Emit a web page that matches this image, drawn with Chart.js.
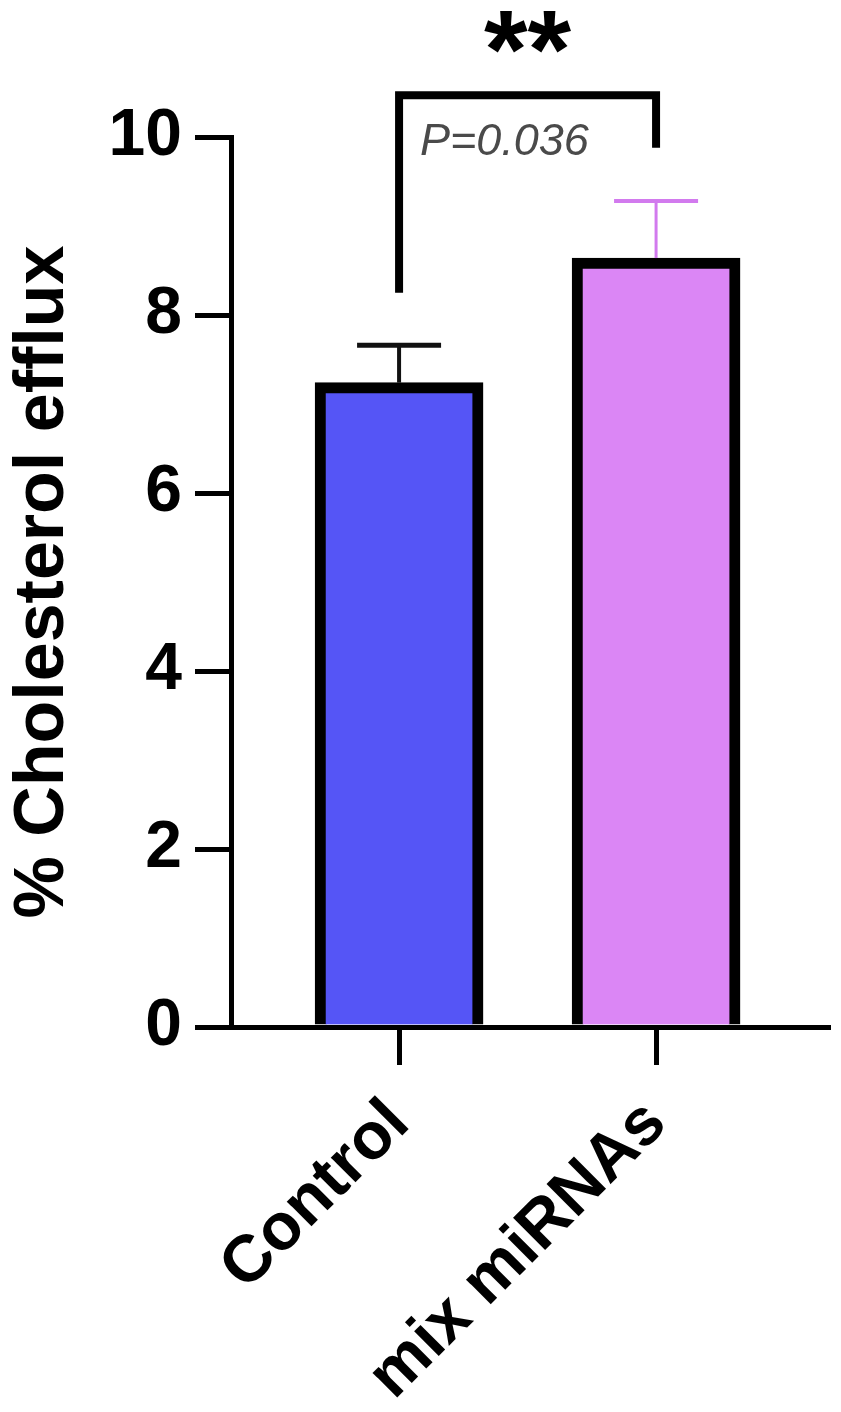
<!DOCTYPE html>
<html>
<head>
<meta charset="utf-8">
<script src="https://cdn.jsdelivr.net/npm/chart.js@4.4.1/dist/chart.umd.min.js"></script>
<style>
  html, body { margin: 0; padding: 0; background: #fff; }
  #wrap { width: 841px; height: 1412px; }
</style>
</head>
<body>
<div id="wrap"><canvas id="chart" width="841" height="1412"></canvas></div>
<script>
// values
const categories = ['Control', 'mix miRNAs'];
const means = [7.24, 8.64];
const upperErrors = [0.42, 0.64];
const yTicks = [0, 2, 4, 6, 8, 10];
const yTitle = '% Cholesterol efflux';

// significance bracket: left leg end, bar height, right leg end (y units)
const bracketLevels = [8.25, 10.47, 9.88];
const pValueText = 'P=0.036';
const starsText = '**';

const FONT = '"Liberation Sans", Arial, Helvetica, sans-serif';
const fillColors = ['#5555F6', '#DB86F5'];
const errorColors = ['#111111', '#D27AEE'];

// error bars, bracket and annotations
const annotate = {
  id: 'annotate',
  afterDatasetsDraw(chart) {
    const ctx = chart.ctx;
    const x = chart.scales.x;
    const y = chart.scales.y;
    ctx.save();
    ctx.lineCap = 'butt';

    // upper error bars
    means.forEach((m, i) => {
      const cx = x.getPixelForValue(i);
      const top = y.getPixelForValue(m + upperErrors[i]);
      const base = y.getPixelForValue(m);
      ctx.strokeStyle = errorColors[i];
      ctx.lineWidth = i === 0 ? 4 : 3;
      ctx.beginPath();
      ctx.moveTo(cx, base);
      ctx.lineTo(cx, top);
      ctx.stroke();
      ctx.lineWidth = i === 0 ? 5 : 4;
      ctx.beginPath();
      ctx.moveTo(cx - 42, top);
      ctx.lineTo(cx + 42, top);
      ctx.stroke();
    });

    // bracket
    const x0 = x.getPixelForValue(0);
    const x1 = x.getPixelForValue(1);
    ctx.strokeStyle = '#000';
    ctx.lineWidth = 8;
    ctx.lineJoin = 'miter';
    ctx.beginPath();
    ctx.moveTo(x0, y.getPixelForValue(bracketLevels[0]));
    ctx.lineTo(x0, y.getPixelForValue(bracketLevels[1]));
    ctx.lineTo(x1, y.getPixelForValue(bracketLevels[1]));
    ctx.lineTo(x1, y.getPixelForValue(bracketLevels[2]));
    ctx.stroke();

    // p value
    ctx.fillStyle = '#4a4a4a';
    ctx.font = 'italic 45px ' + FONT;
    ctx.textAlign = 'center';
    ctx.textBaseline = 'middle';
    ctx.fillText(pValueText, x.getPixelForValue(0.41), y.getPixelForValue(9.94));

    // stars
    ctx.fillStyle = '#000';
    ctx.font = 'bold 112px ' + FONT;
    ctx.textBaseline = 'middle';
    ctx.fillText(starsText, x.getPixelForValue(0.5), y.getPixelForValue(10.9));
    ctx.restore();
  }
};

const chart = new Chart(document.getElementById('chart'), {
  type: 'bar',
  data: {
    datasets: [{
      data: means.map((v, i) => ({ x: i, y: v })),
      backgroundColor: fillColors,
      borderColor: '#000',
      borderWidth: 11,
      borderSkipped: 'start',
      barThickness: 168
    }]
  },
  options: {
    responsive: false,
    animation: false,
    events: [],
    layout: { padding: { top: 137, right: 13, left: 0, bottom: 0 } },
    plugins: { legend: { display: false }, tooltip: { enabled: false } },
    scales: {
      x: {
        type: 'linear',
        min: -0.654,
        max: 1.669,
        offset: false,
        afterBuildTicks: (scale) => { scale.ticks = categories.map((c, i) => ({ value: i })); },
        afterFit: (scale) => { scale.height = 385; },
        ticks: {
          callback: (v) => categories[v],
          autoSkip: false,
          maxRotation: 45,
          minRotation: 45,
          padding: 20,
          color: '#000',
          font: { family: FONT, size: 66, weight: 'bold' }
        },
        grid: { offset: false, drawOnChartArea: false, drawTicks: true, tickLength: 38, lineWidth: 5, color: '#000' },
        border: { display: true, width: 5, color: '#000' }
      },
      y: {
        min: 0,
        max: 10,
        afterBuildTicks: (scale) => { scale.ticks = yTicks.map(v => ({ value: v })); },
        afterFit: (scale) => { scale.width = 231; },
        ticks: {
          padding: 13,
          color: '#000',
          font: { family: FONT, size: 66, weight: 'bold' }
        },
        grid: { drawOnChartArea: false, drawTicks: true, tickLength: 36, lineWidth: 5, color: '#000' },
        border: { display: true, width: 5, color: '#000' },
        title: {
          display: true,
          text: yTitle,
          color: '#000',
          padding: { top: 2, bottom: 0 },
          font: { family: FONT, size: 70, weight: 'bold' }
        }
      }
    }
  },
  plugins: [annotate]
});
</script>
</body>
</html>
